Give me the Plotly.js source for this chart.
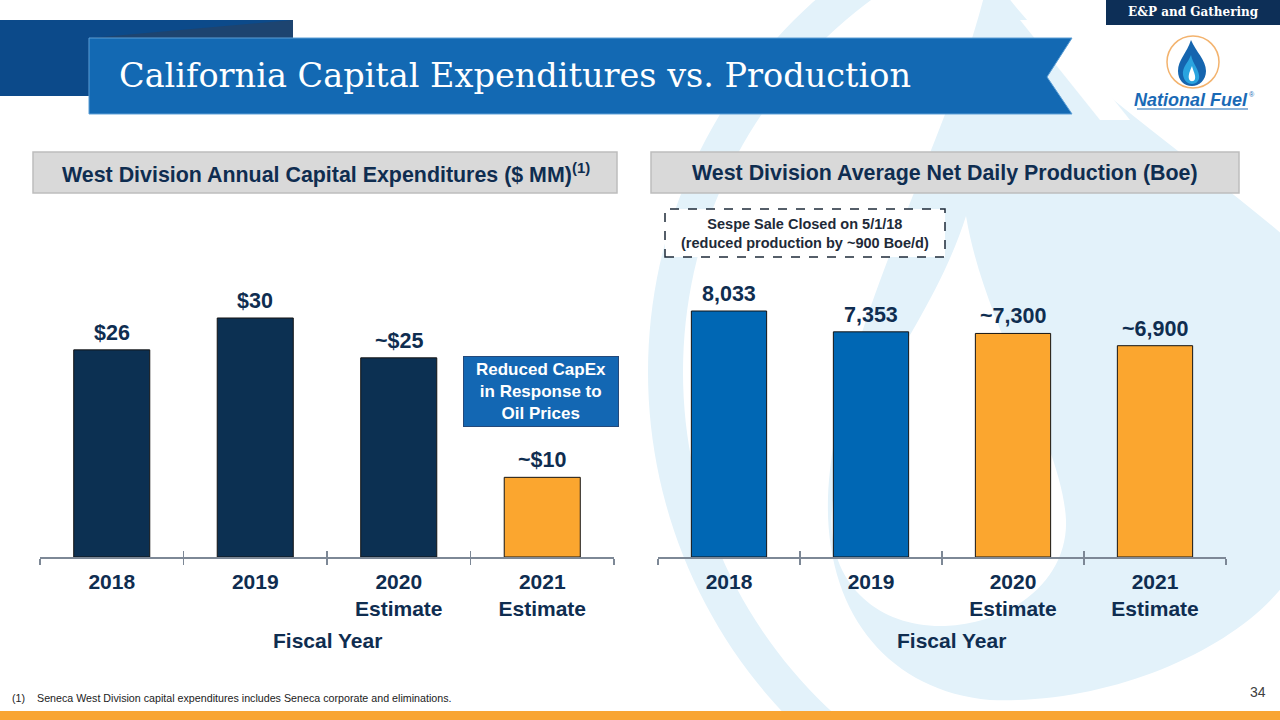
<!DOCTYPE html>
<html>
<head>
<meta charset="utf-8">
<script src="https://cdn.plot.ly/plotly-3.0.1.min.js"></script>
<style>
  html, body { margin: 0; padding: 0; background: #ffffff; }
  #chart { width: 1280px; height: 720px; }
</style>
</head>
<body>
<div id="chart"></div>
<script>
// ---------------- DATA ----------------
const categories = ['2018', '2019', '2020<br>Estimate', '2021<br>Estimate'];
const capexValues = [26, 30, 25, 10];
const capexLabels = ['$26', '$30', '~$25', '~$10'];
const productionValues = [8033, 7353, 7300, 6900];
const productionLabels = ['8,033', '7,353', '~7,300', '~6,900'];
const leftHeader = 'West Division Annual Capital Expenditures ($ MM)<sup>(1)</sup>';
const rightHeader = 'West Division Average Net Daily Production (Boe)';
const axisTitle = 'Fiscal Year';
const slideTitle = 'California Capital Expenditures vs. Production';
const capexNote = 'Reduced CapEx<br>in Response to<br>Oil Prices';
const sespeNote = 'Sespe Sale Closed on 5/1/18<br>(reduced production by ~900 Boe/d)';
const footnoteMark = '(1)';
const footnoteText = 'Seneca West Division capital expenditures includes Seneca corporate and eliminations.';
const sectionTag = 'E&amp;P and Gathering';
const pageNumber = '34';

// ---------------- STYLE ----------------
const NAVY = '#0C3052';
const BLUE = '#0067B4';
const ORANGE = '#FBA62F';
const TEXT = '#0F2D50';
const WM = '#E3F2FA';
const capexColors = [NAVY, NAVY, NAVY, ORANGE];
const productionColors = [BLUE, BLUE, ORANGE, ORANGE];
const W = 1280, H = 720;
const FONT = 'Liberation Sans, Arial, sans-serif';

function fx(x) { return (x / W).toFixed(5); }
function fy(y) { return (1 - y / H).toFixed(5); }
function P(x, y) { return fx(x) + ',' + fy(y); }
function path(segs) {
  return segs.map(s => {
    if (s[0] === 'Z') return 'Z';
    const pts = [];
    for (let i = 1; i < s.length; i += 2) pts.push(P(s[i], s[i + 1]));
    return s[0] + pts.join(' ');
  }).join(' ');
}
function arcPts(cx, cy, r, a0, a1, n) {
  const pts = [];
  for (let i = 0; i <= n; i++) {
    const a = (a0 + (a1 - a0) * i / n) * Math.PI / 180;
    pts.push([cx + r * Math.cos(a), cy + r * Math.sin(a)]);
  }
  return pts;
}
function annulus(cx, cy, ro, ri, a0, a1) {
  const o = arcPts(cx, cy, ro, a0, a1, 80);
  const i = arcPts(cx, cy, ri, a1, a0, 80);
  const all = o.concat(i);
  return 'M' + all.map(p => P(p[0], p[1])).join(' L') + ' Z';
}
function rectShape(x0, y0, x1, y1, fill, line, extra) {
  return Object.assign({
    type: 'rect', xref: 'paper', yref: 'paper',
    x0: x0 / W, x1: x1 / W, y0: 1 - y1 / H, y1: 1 - y0 / H,
    fillcolor: fill, line: line || { width: 0 }, layer: 'below'
  }, extra || {});
}
function pathShape(d, fill, extra) {
  return Object.assign({
    type: 'path', xref: 'paper', yref: 'paper', path: d,
    fillcolor: fill, line: { width: 0 }, layer: 'below'
  }, extra || {});
}

// ---------------- DECORATION SHAPES ----------------
const shapes = [];
shapes.push(pathShape(annulus(1145, 372, 497, 462, 118, 242), WM));
shapes.push(pathShape(path([
  ['M', 990, -30],
  ['C', 960, 120, 850, 300, 830, 470],
  ['C', 815, 600, 880, 690, 990, 700],
  ['C', 1120, 705, 1260, 640, 1300, 560],
  ['L', 1300, 250],
  ['C', 1200, 160, 1040, 60, 990, -30], ['Z']
]), WM));
shapes.push(pathShape(path([
  ['M', 966, 216],
  ['C', 930, 330, 840, 420, 832, 510],
  ['C', 826, 585, 880, 628, 945, 626],
  ['C', 1020, 622, 1068, 575, 1066, 520],
  ['C', 1062, 440, 985, 330, 966, 216], ['Z']
]), '#ffffff'));
shapes.push(pathShape(path([
  ['M', 1020, 20], ['L', 1050, 20], ['L', 1130, 120], ['L', 1100, 120], ['Z']
]), '#ffffff'));

shapes.push(rectShape(0, 20, 293, 96, '#0C4A8A'));
shapes.push(pathShape(path([['M', 90, 38], ['L', 293, 20], ['L', 293, 38], ['Z']]), '#1D4470'));
shapes.push(pathShape(path([
  ['M', 89, 38], ['L', 1072, 38], ['L', 1047, 77], ['L', 1072, 114], ['L', 89, 114], ['Z']
]), '#1369B3', { line: { color: '#5C9FD6', width: 1 } }));

shapes.push(rectShape(1106, 0, 1280, 25, '#0D2F57'));
shapes.push({ type: 'circle', xref: 'paper', yref: 'paper',
  x0: 1167 / W, x1: 1219 / W, y0: 1 - 88 / H, y1: 1 - 36 / H,
  fillcolor: '#ffffff', line: { color: '#F3B36E', width: 1.5 }, layer: 'below' });
shapes.push(pathShape(path([
  ['M', 1191, 40],
  ['C', 1196, 52, 1206, 60, 1206, 71],
  ['C', 1206, 80, 1199, 86, 1192, 86],
  ['C', 1184, 86, 1178, 80, 1178, 71],
  ['C', 1178, 60, 1187, 53, 1191, 40], ['Z']
]), '#1565AF'));
shapes.push(pathShape(path([
  ['M', 1191, 55],
  ['C', 1188, 63, 1182, 67, 1183, 75],
  ['C', 1184, 81, 1188, 84, 1192, 84],
  ['C', 1197, 84, 1200, 80, 1199, 75],
  ['C', 1198, 68, 1193, 64, 1191, 55], ['Z']
]), '#2AA4DF'));
shapes.push(pathShape(path([
  ['M', 1192, 66],
  ['C', 1190, 71, 1188, 75, 1189, 79],
  ['C', 1190, 82, 1194, 82, 1195, 79],
  ['C', 1196, 75, 1193, 71, 1192, 66], ['Z']
]), '#ffffff'));
shapes.push({ type: 'line', xref: 'paper', yref: 'paper',
  x0: 1137 / W, x1: 1248 / W, y0: 1 - 109 / H, y1: 1 - 109 / H,
  line: { color: '#1A6AB6', width: 1.2 }, layer: 'below' });

shapes.push(rectShape(33, 152, 617, 193, '#D9D9D9', { color: '#BDBDBD', width: 1.5 }));
shapes.push(rectShape(651, 152, 1239, 193, '#D9D9D9', { color: '#BDBDBD', width: 1.5 }));
shapes.push(rectShape(665, 209, 945, 257, '#ffffff', { color: '#1E2A38', width: 1.5, dash: 'dash' }));
shapes.push(rectShape(0, 711, 1280, 720, '#F9A533'));

// ---------------- ANNOTATIONS ----------------
const ann = [];
function pa(text, x, y, opts) {
  return Object.assign({ text: text, xref: 'paper', yref: 'paper', x: x / W, y: 1 - y / H,
    showarrow: false, xanchor: 'center', yanchor: 'middle' }, opts || {});
}
ann.push(pa(slideTitle, 117, 76, { xanchor: 'left',
  font: { family: 'DejaVu Serif', size: 33.5, color: '#ffffff' } }));
ann.push(pa(sectionTag, 1193, 12, { font: { family: 'DejaVu Serif', size: 12, color: '#ffffff', weight: 'bold' } }));
ann.push(pa('<i><b>National Fuel</b></i>', 1191, 100, { font: { family: FONT, size: 18, color: '#1A6AB6' } }));
ann.push(pa('®', 1252, 95, { font: { family: FONT, size: 7, color: '#1A6AB6' } }));
ann.push(pa(leftHeader, 326, 173, { font: { family: FONT, size: 21.4, color: TEXT, weight: 'bold' } }));
ann.push(pa(rightHeader, 945, 173, { font: { family: FONT, size: 21.4, color: TEXT, weight: 'bold' } }));
ann.push(pa(sespeNote, 805, 234, { font: { family: FONT, size: 14.5, color: '#1E2A38', weight: 'bold' } }));
ann.push(pa(capexNote, 541, 392, { width: 152, height: 67, bgcolor: '#1367B3',
  bordercolor: '#24497A', borderwidth: 1, borderpad: 1,
  font: { family: FONT, size: 17, color: '#ffffff', weight: 'bold' } }));
ann.push({ text: axisTitle, xref: 'x domain', yref: 'paper', x: 0.5, y: 1 - 640 / H,
  showarrow: false, xanchor: 'center', yanchor: 'middle',
  font: { family: FONT, size: 21, color: TEXT, weight: 'bold' } });
ann.push({ text: axisTitle, xref: 'x2 domain', yref: 'paper', x: 0.5, y: 1 - 640 / H,
  xshift: 9, showarrow: false, xanchor: 'center', yanchor: 'middle',
  font: { family: FONT, size: 21, color: TEXT, weight: 'bold' } });
ann.push(pa(footnoteMark, 10, 698, { xanchor: 'left', font: { family: FONT, size: 10.7, color: '#222222' } }));
ann.push(pa(footnoteText, 35, 698, { xanchor: 'left', font: { family: FONT, size: 10.7, color: '#222222' } }));
ann.push(pa(pageNumber, 1268, 692, { xanchor: 'right', font: { family: FONT, size: 14, color: '#404040' } }));

categories.forEach((c, i) => {
  ann.push({ text: capexLabels[i], xref: 'x', yref: 'y', x: i, y: capexValues[i],
    showarrow: false, xanchor: 'center', yanchor: 'bottom', yshift: 3,
    font: { family: FONT, size: 21.5, color: TEXT, weight: 'bold' } });
  ann.push({ text: productionLabels[i], xref: 'x2', yref: 'y2', x: i, y: productionValues[i],
    showarrow: false, xanchor: 'center', yanchor: 'bottom', yshift: 3,
    font: { family: FONT, size: 21.5, color: TEXT, weight: 'bold' } });
});

// ---------------- TRACES ----------------
const traces = [
  { type: 'bar', x: categories, y: capexValues, xaxis: 'x', yaxis: 'y',
    marker: { color: capexColors, line: { color: '#141414', width: 1 } }, hoverinfo: 'skip' },
  { type: 'bar', x: categories, y: productionValues, xaxis: 'x2', yaxis: 'y2',
    marker: { color: productionColors, line: { color: '#141414', width: 1 } }, hoverinfo: 'skip' },
  // empty helper traces so the overlaid tick axes (upper tick halves) are built
  { type: 'scatter', x: [], y: [], xaxis: 'x3', yaxis: 'y', hoverinfo: 'skip' },
  { type: 'scatter', x: [], y: [], xaxis: 'x4', yaxis: 'y2', hoverinfo: 'skip' }
];

const AX = '#7D8896';
const yDom = [163 / H, 520 / H];
function catAxis(domain, anchor) {
  return { domain: domain, anchor: anchor, type: 'category', range: [-0.5, 3.5],
    showline: true, linecolor: AX, linewidth: 1.5, ticks: 'outside', ticklen: 6,
    tickcolor: AX, tickwidth: 1.5, tickson: 'boundaries', showgrid: false, zeroline: false,
    ticklabelstandoff: 5, fixedrange: true,
    tickfont: { family: FONT, size: 21, color: TEXT, weight: 'bold' } };
}
function innerTickAxis(over, anchor) {
  return { overlaying: over, anchor: anchor, type: 'linear', range: [-0.5, 3.5],
    tickmode: 'linear', tick0: -0.5, dtick: 1, ticks: 'inside', ticklen: 6,
    tickcolor: AX, tickwidth: 1.5, showticklabels: false, showline: false,
    showgrid: false, zeroline: false, fixedrange: true };
}

const layout = {
  width: W, height: H, margin: { l: 0, r: 0, t: 0, b: 0 },
  paper_bgcolor: '#ffffff', plot_bgcolor: 'rgba(0,0,0,0)',
  showlegend: false, bargap: 0.47,
  xaxis: catAxis([40 / W, 614 / W], 'y'),
  yaxis: { domain: yDom, anchor: 'x', range: [0, 44.81], visible: false, fixedrange: true },
  xaxis2: catAxis([658 / W, 1226 / W], 'y2'),
  yaxis2: { domain: yDom, anchor: 'x2', range: [0, 11658], visible: false, fixedrange: true },
  xaxis3: innerTickAxis('x', 'y'),
  xaxis4: innerTickAxis('x2', 'y2'),
  shapes: shapes,
  annotations: ann
};

Plotly.newPlot('chart', traces, layout, { displayModeBar: false, staticPlot: true });
</script>
</body>
</html>
